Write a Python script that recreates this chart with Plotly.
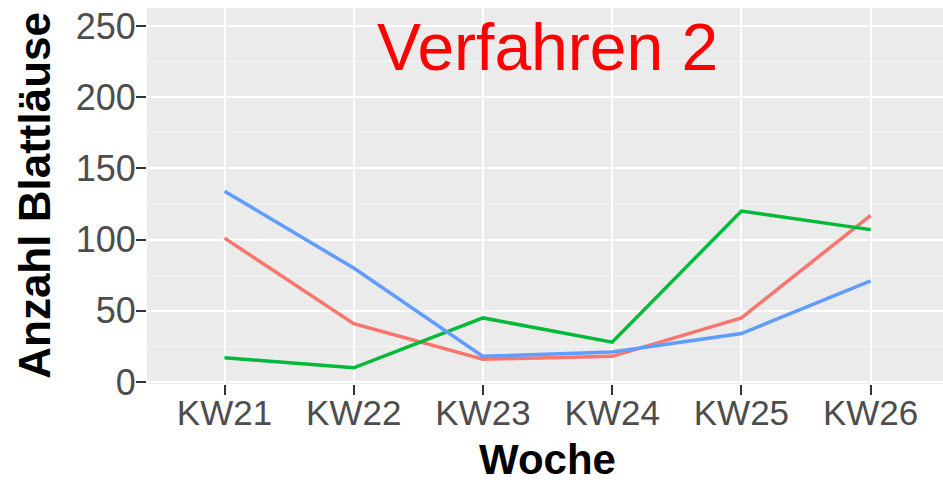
import plotly.graph_objects as go

weeks = ["KW21", "KW22", "KW23", "KW24", "KW25", "KW26"]
red_vals = [101, 41, 16, 18, 45, 117]
green_vals = [17, 10, 45, 28, 120, 107]
blue_vals = [134, 80, 18, 21, 34, 71]
y_ticks = [0, 50, 100, 150, 200, 250]
title_text = "Verfahren 2"
x_title = "Woche"
y_title = "Anzahl Blattläuse"

FONT = "Liberation Sans, Arial, Helvetica, sans-serif"
x_idx = list(range(len(weeks)))

# full window size; the page's default body margin is removed below
W, H = 943, 483
ML, MR, MT, MB = 147, 0, 8, 98.5

fig = go.Figure()
for vals, col in [(red_vals, "#F8766D"), (green_vals, "#00BA38"), (blue_vals, "#619CFF")]:
    fig.add_trace(go.Scatter(x=x_idx, y=vals, mode="lines",
                             line=dict(color=col, width=3.5), showlegend=False))

fig.add_annotation(x=2.5, y=235, xref="x", yref="y", text=title_text,
                   showarrow=False, font=dict(family=FONT, size=66, color="#FF0000"),
                   xanchor="center", yanchor="middle")

pw = W - ML - MR
ph = H - MT - MB
fig.add_annotation(x=(547 - ML) / pw, y=(H - MB - 460) / ph, xref="paper", yref="paper",
                   text=x_title, showarrow=False,
                   font=dict(family=FONT, size=42, color="black", weight="bold"),
                   xanchor="center", yanchor="middle")
fig.add_annotation(x=(35 - ML) / pw, y=(H - MB - 196) / ph, xref="paper", yref="paper",
                   text=y_title, showarrow=False, textangle=-90,
                   font=dict(family=FONT, size=44, color="black", weight="bold"),
                   xanchor="center", yanchor="middle")

fig.update_layout(
    width=W, height=H,
    margin=dict(l=ML, r=MR, t=MT, b=MB),
    paper_bgcolor="white", plot_bgcolor="#EBEBEB",
    font=dict(family=FONT),
)
fig.update_xaxes(
    range=[-0.60, 5.56], tickmode="array", tickvals=x_idx, ticktext=weeks,
    showgrid=True, gridcolor="white", gridwidth=2, zeroline=False,
    ticks="outside", ticklen=10, tickwidth=2, tickcolor="#333333",
    tickfont=dict(family=FONT, size=35, color="#4D4D4D"),
    ticklabelstandoff=-12, ticklabeloverflow="allow",
    automargin=False, showline=False,
)
fig.update_yaxes(
    range=[-1.4, 262.6], tickmode="array", tickvals=y_ticks,
    showgrid=True, gridcolor="white", gridwidth=2, zeroline=False,
    minor=dict(tickmode="array", tickvals=[25, 75, 125, 175, 225], showgrid=True,
               gridcolor="#F5F5F5", gridwidth=1, ticks=""),
    ticks="outside", ticklen=10, tickwidth=2, tickcolor="#333333",
    tickfont=dict(family=FONT, size=36, color="#4D4D4D"),
    ticklabelstandoff=-7, ticklabeloverflow="allow",
    automargin=False, showline=False,
)

fig.write_html("out.html",
               config={"displayModeBar": False},
               post_script="document.body.style.margin='0px'; document.body.style.overflow='hidden';")
